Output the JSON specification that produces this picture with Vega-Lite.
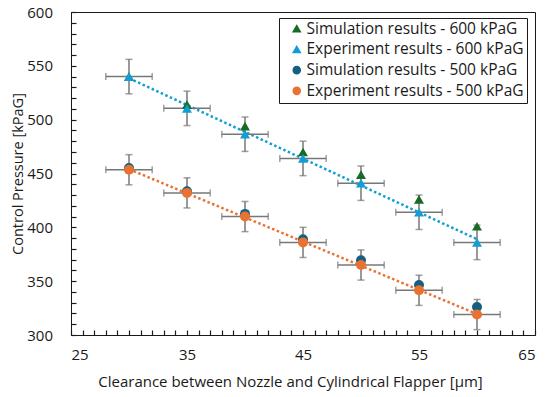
{
  "$schema": "https://vega.github.io/schema/vega-lite/v6.json",
  "width": 464,
  "height": 323,
  "autosize": {"type": "none"},
  "padding": {"left": 71, "top": 12, "right": 15, "bottom": 62},
  "background": "white",
  "config": {
    "font": "Open Sans",
    "view": {"stroke": "#1a1a1a", "strokeWidth": 1},
    "axis": {"labelColor": "#1a1a1a", "titleColor": "#1a1a1a", "domainColor": "#1a1a1a", "tickColor": "#1a1a1a", "grid": false, "labelFontSize": 15, "titleFontSize": 14.5, "titleFontWeight": "normal", "labelOverlap": false, "labelFont": "Open Sans", "titleFont": "Open Sans"}
  },
  "datasets": {
    "pts": [
      {"x": 30, "p": 540, "series": "Simulation results - 600 kPaG"},
      {"x": 35, "p": 514, "series": "Simulation results - 600 kPaG"},
      {"x": 40, "p": 494, "series": "Simulation results - 600 kPaG"},
      {"x": 45, "p": 470, "series": "Simulation results - 600 kPaG"},
      {"x": 50, "p": 449, "series": "Simulation results - 600 kPaG"},
      {"x": 55, "p": 426, "series": "Simulation results - 600 kPaG"},
      {"x": 60, "p": 401, "series": "Simulation results - 600 kPaG"},
      {"x": 30, "p": 540, "series": "Experiment results - 600 kPaG", "err": 16, "xerr": 2},
      {"x": 35, "p": 510.5, "series": "Experiment results - 600 kPaG", "err": 16, "xerr": 2},
      {"x": 40, "p": 486.5, "series": "Experiment results - 600 kPaG", "err": 16, "xerr": 2},
      {"x": 45, "p": 464, "series": "Experiment results - 600 kPaG", "err": 16, "xerr": 2},
      {"x": 50, "p": 441, "series": "Experiment results - 600 kPaG", "err": 16, "xerr": 2},
      {"x": 55, "p": 414, "series": "Experiment results - 600 kPaG", "err": 16, "xerr": 2},
      {"x": 60, "p": 386, "series": "Experiment results - 600 kPaG", "err": 16, "xerr": 2},
      {"x": 30, "p": 455, "series": "Simulation results - 500 kPaG"},
      {"x": 35, "p": 433.5, "series": "Simulation results - 500 kPaG"},
      {"x": 40, "p": 412.5, "series": "Simulation results - 500 kPaG"},
      {"x": 45, "p": 389, "series": "Simulation results - 500 kPaG"},
      {"x": 50, "p": 369.5, "series": "Simulation results - 500 kPaG"},
      {"x": 55, "p": 346.5, "series": "Simulation results - 500 kPaG"},
      {"x": 60, "p": 326, "series": "Simulation results - 500 kPaG"},
      {"x": 30, "p": 453.5, "series": "Experiment results - 500 kPaG", "err": 14, "xerr": 2},
      {"x": 35, "p": 432, "series": "Experiment results - 500 kPaG", "err": 14, "xerr": 2},
      {"x": 40, "p": 410, "series": "Experiment results - 500 kPaG", "err": 14, "xerr": 2},
      {"x": 45, "p": 386, "series": "Experiment results - 500 kPaG", "err": 14, "xerr": 2},
      {"x": 50, "p": 365, "series": "Experiment results - 500 kPaG", "err": 14, "xerr": 2},
      {"x": 55, "p": 341.5, "series": "Experiment results - 500 kPaG", "err": 14, "xerr": 2},
      {"x": 60, "p": 319, "series": "Experiment results - 500 kPaG", "err": 14, "xerr": 2}
    ],
    "trend": [
      {"x": 30, "p": 538.5, "series": "Experiment results - 600 kPaG"},
      {"x": 60, "p": 389, "series": "Experiment results - 600 kPaG"},
      {"x": 30, "p": 454, "series": "Experiment results - 500 kPaG"},
      {"x": 60, "p": 319.5, "series": "Experiment results - 500 kPaG"}
    ]
  },
  "encoding": {
    "x": {"field": "x", "type": "quantitative", "scale": {"domain": [25, 65], "nice": false, "zero": false},
      "title": "Clearance between Nozzle and Cylindrical Flapper [µm]",
      "axis": {"tickCount": 40, "labelExpr": "(datum.value - 25) % 10 == 0 ? datum.label : ''", "ticks": true, "tickSize": -5, "tickWidth": 1.2, "tickColor": "#1a1a1a", "tickOpacity": 1, "zindex": 2, "labelPadding": 17, "titlePadding": 12, "titleFontSize": 15, "titleX": 219}},
    "y": {"field": "p", "type": "quantitative", "scale": {"domain": [300, 600], "nice": false, "zero": false},
      "title": "Control Pressure [kPaG]",
      "axis": {"tickCount": 30, "labelExpr": "datum.value % 50 == 0 ? datum.label : ''", "ticks": true, "tickSize": -5, "tickWidth": 1.2, "tickColor": "#1a1a1a", "tickOpacity": 1, "zindex": 2, "labelPadding": 23.5, "titlePadding": 1}}
  },
  "layer": [
    {
      "data": {"name": "trend"},
      "mark": {"type": "line", "strokeDash": [2.5, 2.5], "strokeWidth": 2.5},
      "encoding": {
        "color": {"field": "series", "type": "nominal",
          "scale": {"domain": ["Simulation results - 600 kPaG", "Experiment results - 600 kPaG", "Simulation results - 500 kPaG", "Experiment results - 500 kPaG"], "range": ["#196B24", "#0F9ED5", "#156082", "#E97132"]}},
        "detail": {"field": "series"}
      }
    },
    {
      "data": {"name": "pts"},
      "transform": [{"filter": "isValid(datum.err)"}],
      "mark": {"type": "errorbar", "ticks": {"size": 7}, "color": "#777777", "thickness": 1.5},
      "encoding": {
        "yError": {"field": "err"}
      }
    },
    {
      "data": {"name": "pts"},
      "transform": [{"filter": "isValid(datum.xerr)"}],
      "mark": {"type": "errorbar", "ticks": {"size": 7}, "color": "#777777", "thickness": 1.5, "orient": "horizontal"},
      "encoding": {
        "xError": {"field": "xerr"}
      }
    },
    {
      "data": {"name": "pts"},
      "mark": {"type": "point", "filled": true, "opacity": 1, "size": 100},
      "encoding": {
        "color": {"field": "series", "type": "nominal",
          "scale": {"domain": ["Simulation results - 600 kPaG", "Experiment results - 600 kPaG", "Simulation results - 500 kPaG", "Experiment results - 500 kPaG"], "range": ["#196B24", "#0F9ED5", "#156082", "#E97132"]},
          "legend": {"title": null, "orient": "none", "legendX": 208, "legendY": 6, "strokeColor": "#1a1a1a", "fillColor": "white", "padding": 3, "labelFontSize": 15.5, "labelFont": "Open Sans", "labelColor": "#1a1a1a", "symbolSize": 50, "symbolOffset": 7, "rowPadding": 3.7, "labelOffset": 2, "labelLimit": 400, "labelExpr": "datum.label + '\u00a0\u00a0\u00a0'"}},
        "shape": {"field": "series", "type": "nominal",
          "scale": {"domain": ["Simulation results - 600 kPaG", "Experiment results - 600 kPaG", "Simulation results - 500 kPaG", "Experiment results - 500 kPaG"], "range": ["triangle-up", "triangle-up", "circle", "circle"]},
          "legend": {"title": null}}
      }
    }
  ]
}
